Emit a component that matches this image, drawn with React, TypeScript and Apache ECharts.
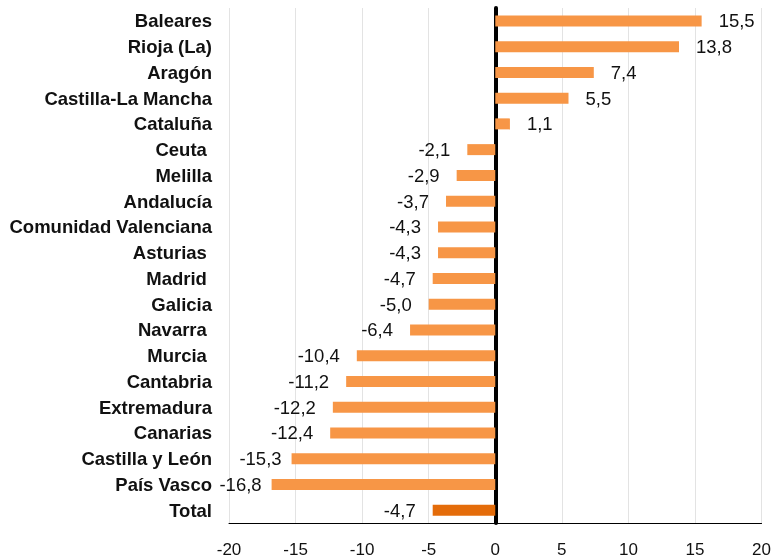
import React, { useEffect, useRef } from "react";
import * as echarts from "echarts";

const categories = [
  "Baleares",
  "Rioja (La)",
  "Aragón",
  "Castilla-La Mancha",
  "Cataluña",
  "Ceuta ",
  "Melilla",
  "Andalucía",
  "Comunidad Valenciana",
  "Asturias ",
  "Madrid ",
  "Galicia",
  "Navarra ",
  "Murcia ",
  "Cantabria",
  "Extremadura",
  "Canarias",
  "Castilla y León",
  "País Vasco",
  "Total",
];
const values = [
  15.5, 13.8, 7.4, 5.5, 1.1, -2.1, -2.9, -3.7, -4.3, -4.3, -4.7, -5.0, -6.4, -10.4, -11.2, -12.2, -12.4, -15.3,
  -16.8, -4.7,
];
const xTicks = { min: -20, max: 20, interval: 5 };

const BAR = "#F79646";
const TOTAL = "#E46C0A";
const FONT = "Liberation Sans, Arial, Helvetica, sans-serif";

export default function App() {
  const ref = useRef<HTMLDivElement>(null);
  useEffect(() => {
    const chart = echarts.init(ref.current!, null, { renderer: "svg" });
    const cats = [...categories].reverse();
    const vals = [...values].reverse();
    chart.setOption({
      animation: false,
      textStyle: { fontFamily: FONT },
      grid: { left: 229, right: 12, top: 8, bottom: 35, containLabel: false },
      xAxis: {
        type: "value",
        min: xTicks.min,
        max: xTicks.max,
        interval: xTicks.interval,
        axisLine: { show: true, onZero: false, lineStyle: { color: "#000", width: 1 } },
        axisTick: { show: false },
        splitLine: { show: true, lineStyle: { color: "#e3e3e3", width: 1 } },
        axisLabel: { color: "#111", fontSize: 17, margin: 18, fontFamily: FONT },
      },
      yAxis: {
        type: "category",
        data: cats,
        axisLine: { show: true, onZero: true, lineStyle: { color: "#000", width: 4 } },
        axisTick: { show: false },
        axisLabel: {
          fontWeight: "bold",
          fontSize: 18.5,
          color: "#111",
          margin: 17,
          fontFamily: FONT,
        },
        position: "left",
      },
      series: [
        {
          type: "bar",
          barWidth: 11,
          data: vals.map((v, i) => ({
            value: v,
            itemStyle: { color: cats[i] === "Total" ? TOTAL : BAR },
            label: {
              show: true,
              position: v >= 0 ? "right" : "left",
              distance: v < -15 ? 10 : 17,
              fontSize: 18.5,
              color: "#111",
              fontFamily: FONT,
              formatter: () => v.toFixed(1).replace(".", ","),
            },
          })),
        },
      ],
    });
    return () => chart.dispose();
  }, []);
  return <div ref={ref} style={{ position: "fixed", left: 0, top: 0, width: 774, height: 558 }} />;
}
